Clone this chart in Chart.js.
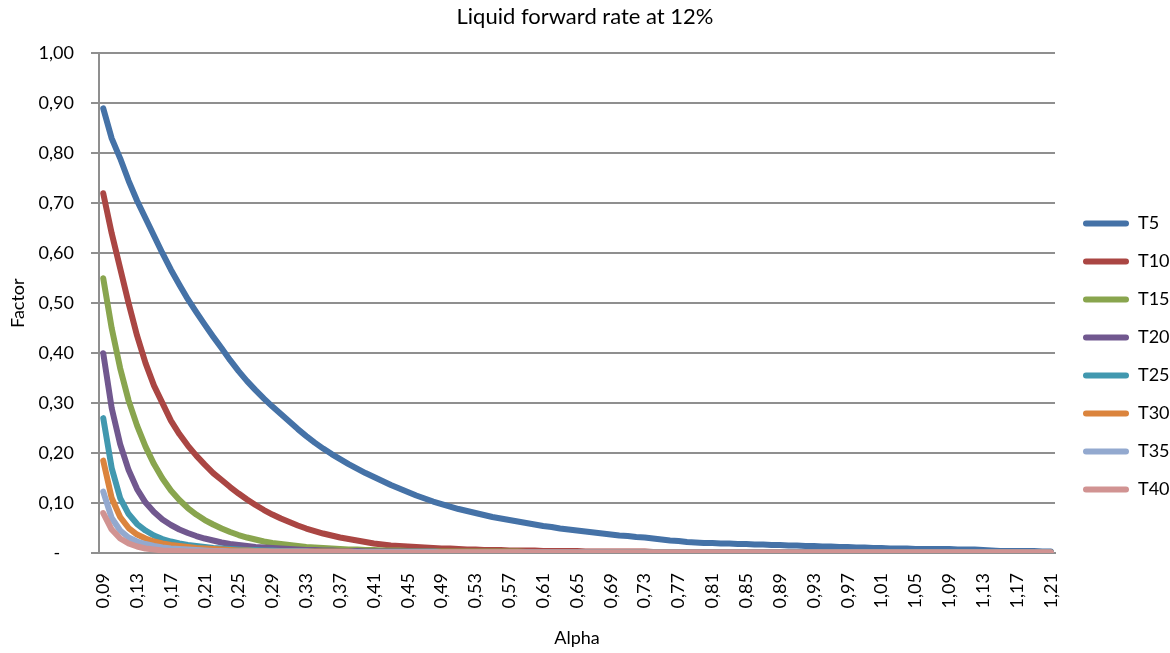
<!DOCTYPE html>
<html>
<head>
<meta charset="utf-8">
<title>Liquid forward rate at 12%</title>
<script src="https://cdn.jsdelivr.net/npm/chart.js@4"></script>
<style>
  body { margin: 0; background: #fff; }
  canvas { display: block; }
</style>
</head>
<body>
<canvas id="grafico" width="1170" height="653"></canvas>
<script>
// alpha values (x categories), step 0,01
const alphas = [
  '0,09','0,10','0,11','0,12','0,13','0,14','0,15','0,16','0,17','0,18',
  '0,19','0,20','0,21','0,22','0,23','0,24','0,25','0,26','0,27','0,28',
  '0,29','0,30','0,31','0,32','0,33','0,34','0,35','0,36','0,37','0,38',
  '0,39','0,40','0,41','0,42','0,43','0,44','0,45','0,46','0,47','0,48',
  '0,49','0,50','0,51','0,52','0,53','0,54','0,55','0,56','0,57','0,58',
  '0,59','0,60','0,61','0,62','0,63','0,64','0,65','0,66','0,67','0,68',
  '0,69','0,70','0,71','0,72','0,73','0,74','0,75','0,76','0,77','0,78',
  '0,79','0,80','0,81','0,82','0,83','0,84','0,85','0,86','0,87','0,88',
  '0,89','0,90','0,91','0,92','0,93','0,94','0,95','0,96','0,97','0,98',
  '0,99','1,00','1,01','1,02','1,03','1,04','1,05','1,06','1,07','1,08',
  '1,09','1,10','1,11','1,12','1,13','1,14','1,15','1,16','1,17','1,18',
  '1,19','1,20','1,21'
];

const seriesNames = ['T5', 'T10', 'T15', 'T20', 'T25', 'T30', 'T35', 'T40'];
const colores = ['#4572A7', '#AA4643', '#89A54E', '#71588F', '#4198AF', '#DB843D', '#93A9CF', '#D19392'];

const t5 = [
  0.89, 0.83, 0.79, 0.745, 0.705, 0.67, 0.635, 0.60, 0.567, 0.537,
  0.508, 0.482, 0.457, 0.433, 0.41, 0.386, 0.364, 0.344, 0.326, 0.309,
  0.293, 0.278, 0.263, 0.248, 0.234, 0.221, 0.209, 0.198, 0.188, 0.178,
  0.169, 0.16, 0.152, 0.144, 0.136, 0.129, 0.122, 0.115, 0.109, 0.103,
  0.098, 0.093, 0.088, 0.084, 0.08, 0.076, 0.072, 0.069, 0.066, 0.063,
  0.06, 0.057, 0.054, 0.052, 0.049, 0.047, 0.045, 0.043, 0.041, 0.039,
  0.037, 0.035, 0.034, 0.032, 0.031, 0.029, 0.027, 0.025, 0.024, 0.022,
  0.021, 0.02, 0.02, 0.019, 0.019, 0.018, 0.018, 0.017, 0.017, 0.016,
  0.016, 0.015, 0.015, 0.014, 0.014, 0.013, 0.013, 0.012, 0.012, 0.011,
  0.011, 0.01, 0.01, 0.009, 0.009, 0.009, 0.008, 0.008, 0.008, 0.008,
  0.008, 0.007, 0.007, 0.007, 0.006, 0.005, 0.004, 0.004, 0.004, 0.004,
  0.004, 0.003, 0.003
];
const t10 = [
  0.72, 0.64, 0.57, 0.50, 0.435, 0.38, 0.335, 0.30, 0.265, 0.238,
  0.215, 0.195, 0.177, 0.16, 0.146, 0.132, 0.119, 0.107, 0.096, 0.086,
  0.077, 0.069, 0.062, 0.055, 0.049, 0.044, 0.039, 0.035, 0.031, 0.028,
  0.025, 0.022, 0.019, 0.017, 0.015, 0.014, 0.013, 0.012, 0.011, 0.01,
  0.009, 0.009, 0.008, 0.007, 0.007, 0.006, 0.006, 0.006, 0.005, 0.005,
  0.005, 0.005, 0.004, 0.004, 0.004, 0.004, 0.004, 0.003, 0.003, 0.003,
  0.003, 0.003, 0.003, 0.003, 0.003, 0.002, 0.002, 0.002, 0.002, 0.002,
  0.002, 0.002, 0.002, 0.002, 0.002, 0.002, 0.001, 0.001, 0.001, 0.001,
  0.001, 0.001, 0.001, 0.001, 0.001, 0.001, 0.001, 0.001, 0.001, 0.001,
  0.001, 0.001, 0.001, 0.001, 0.001, 0.001, 0.001, 0.001, 0.001, 0.001,
  0.001, 0.001, 0.001, 0.001, 0.001, 0.001, 0.001, 0.001, 0.001, 0.001,
  0.001, 0.001, 0.001
];
const t15 = [
  0.55, 0.45, 0.37, 0.305, 0.255, 0.213, 0.178, 0.149, 0.125, 0.106,
  0.09, 0.077, 0.066, 0.057, 0.049, 0.042, 0.036, 0.031, 0.027, 0.023,
  0.02, 0.018, 0.016, 0.014, 0.012, 0.011, 0.01, 0.009, 0.008, 0.007,
  0.007, 0.006, 0.006, 0.005, 0.005, 0.005, 0.004, 0.004, 0.004, 0.004,
  0.003, 0.003, 0.003, 0.003, 0.003, 0.003, 0.003, 0.003, 0.003, 0.003,
  0.002, 0.002, 0.002, 0.002, 0.002, 0.002, 0.002, 0.002, 0.002, 0.002,
  0.002, 0.002, 0.002, 0.002, 0.002, 0.002, 0.002, 0.002, 0.002, 0.002,
  0.001, 0.001, 0.001, 0.001, 0.001, 0.001, 0.001, 0.001, 0.001, 0.001,
  0.001, 0.001, 0.001, 0.001, 0.001, 0.001, 0.001, 0.001, 0.001, 0.001,
  0.001, 0.001, 0.001, 0.001, 0.001, 0.001, 0.001, 0.001, 0.001, 0.001,
  0.001, 0.001, 0.001, 0.001, 0.001, 0.001, 0.001, 0.001, 0.001, 0.001,
  0.001, 0.001, 0.001
];
const t20 = [
  0.40, 0.29, 0.218, 0.166, 0.128, 0.101, 0.082, 0.067, 0.056, 0.047,
  0.04, 0.034, 0.029, 0.025, 0.021, 0.018, 0.016, 0.014, 0.012, 0.011,
  0.01, 0.009, 0.008, 0.007, 0.006, 0.006, 0.005, 0.005, 0.004, 0.004,
  0.004, 0.003, 0.003, 0.003, 0.003, 0.003, 0.003, 0.003, 0.003, 0.003,
  0.002, 0.002, 0.002, 0.002, 0.002, 0.002, 0.002, 0.002, 0.002, 0.002,
  0.002, 0.002, 0.002, 0.002, 0.002, 0.002, 0.002, 0.002, 0.002, 0.002,
  0.001, 0.001, 0.001, 0.001, 0.001, 0.001, 0.001, 0.001, 0.001, 0.001,
  0.001, 0.001, 0.001, 0.001, 0.001, 0.001, 0.001, 0.001, 0.001, 0.001,
  0.001, 0.001, 0.001, 0.001, 0.001, 0.001, 0.001, 0.001, 0.001, 0.001,
  0.001, 0.001, 0.001, 0.001, 0.001, 0.001, 0.001, 0.001, 0.001, 0.001,
  0.001, 0.001, 0.001, 0.001, 0.001, 0.001, 0.001, 0.001, 0.001, 0.001,
  0.001, 0.001, 0.001
];
const t25 = [
  0.27, 0.17, 0.11, 0.078, 0.058, 0.045, 0.035, 0.028, 0.023, 0.019,
  0.016, 0.014, 0.012, 0.01, 0.009, 0.008, 0.007, 0.006, 0.006, 0.005,
  0.005, 0.004, 0.004, 0.004, 0.003, 0.003, 0.003, 0.003, 0.003, 0.003,
  0.002, 0.002, 0.002, 0.002, 0.002, 0.002, 0.002, 0.002, 0.002, 0.002,
  0.002, 0.002, 0.002, 0.002, 0.002, 0.001, 0.001, 0.001, 0.001, 0.001,
  0.001, 0.001, 0.001, 0.001, 0.001, 0.001, 0.001, 0.001, 0.001, 0.001,
  0.001, 0.001, 0.001, 0.001, 0.001, 0.001, 0.001, 0.001, 0.001, 0.001,
  0.001, 0.001, 0.001, 0.001, 0.001, 0.001, 0.001, 0.001, 0.001, 0.001,
  0.001, 0.001, 0.001, 0.001, 0.001, 0.001, 0.001, 0.001, 0.001, 0.001,
  0.001, 0.001, 0.001, 0.001, 0.001, 0.001, 0.001, 0.001, 0.001, 0.001,
  0.001, 0.001, 0.001, 0.001, 0.001, 0.001, 0.001, 0.001, 0.001, 0.001,
  0.001, 0.001, 0.001
];
const t30 = [
  0.185, 0.11, 0.072, 0.05, 0.037, 0.029, 0.023, 0.019, 0.016, 0.014,
  0.012, 0.01, 0.009, 0.008, 0.007, 0.006, 0.005, 0.005, 0.004, 0.004,
  0.003, 0.003, 0.003, 0.003, 0.003, 0.003, 0.003, 0.003, 0.003, 0.003,
  0.002, 0.002, 0.002, 0.002, 0.002, 0.002, 0.002, 0.002, 0.002, 0.002,
  0.002, 0.002, 0.002, 0.002, 0.002, 0.002, 0.002, 0.002, 0.002, 0.002,
  0.001, 0.001, 0.001, 0.001, 0.001, 0.001, 0.001, 0.001, 0.001, 0.001,
  0.001, 0.001, 0.001, 0.001, 0.001, 0.001, 0.001, 0.001, 0.001, 0.001,
  0.001, 0.001, 0.001, 0.001, 0.001, 0.001, 0.001, 0.001, 0.001, 0.001,
  0.001, 0.001, 0.001, 0.001, 0.001, 0.001, 0.001, 0.001, 0.001, 0.001,
  0.001, 0.001, 0.001, 0.001, 0.001, 0.001, 0.001, 0.001, 0.001, 0.001,
  0.001, 0.001, 0.001, 0.001, 0.001, 0.001, 0.001, 0.001, 0.001, 0.001,
  0.001, 0.001, 0.001
];
const t35 = [
  0.123, 0.07, 0.045, 0.031, 0.023, 0.018, 0.014, 0.011, 0.009, 0.008,
  0.007, 0.006, 0.005, 0.004, 0.004, 0.003, 0.003, 0.003, 0.003, 0.003,
  0.003, 0.003, 0.003, 0.003, 0.003, 0.002, 0.002, 0.002, 0.002, 0.002,
  0.002, 0.002, 0.002, 0.002, 0.002, 0.002, 0.002, 0.002, 0.002, 0.002,
  0.001, 0.001, 0.001, 0.001, 0.001, 0.001, 0.001, 0.001, 0.001, 0.001,
  0.001, 0.001, 0.001, 0.001, 0.001, 0.001, 0.001, 0.001, 0.001, 0.001,
  0.001, 0.001, 0.001, 0.001, 0.001, 0.001, 0.001, 0.001, 0.001, 0.001,
  0.001, 0.001, 0.001, 0.001, 0.001, 0.001, 0.001, 0.001, 0.001, 0.001,
  0.001, 0.001, 0.001, 0.001, 0.001, 0.001, 0.001, 0.001, 0.001, 0.001,
  0.001, 0.001, 0.001, 0.001, 0.001, 0.001, 0.001, 0.001, 0.001, 0.001,
  0.001, 0.001, 0.001, 0.001, 0.001, 0.001, 0.001, 0.001, 0.001, 0.001,
  0.001, 0.001, 0.001
];
const t40 = [
  0.08, 0.047, 0.029, 0.019, 0.013, 0.009, 0.007, 0.005, 0.004, 0.004,
  0.003, 0.003, 0.003, 0.003, 0.003, 0.002, 0.002, 0.002, 0.002, 0.002,
  0.002, 0.002, 0.002, 0.002, 0.002, 0.002, 0.002, 0.002, 0.002, 0.002,
  0.001, 0.001, 0.001, 0.001, 0.001, 0.001, 0.001, 0.001, 0.001, 0.001,
  0.001, 0.001, 0.001, 0.001, 0.001, 0.001, 0.001, 0.001, 0.001, 0.001,
  0.001, 0.001, 0.001, 0.001, 0.001, 0.001, 0.001, 0.001, 0.001, 0.001,
  0.001, 0.001, 0.001, 0.001, 0.001, 0.001, 0.001, 0.001, 0.001, 0.001,
  0.001, 0.001, 0.001, 0.001, 0.001, 0.001, 0.001, 0.001, 0.001, 0.001,
  0.001, 0.001, 0.001, 0.001, 0.001, 0.001, 0.001, 0.001, 0.001, 0.001,
  0.001, 0.001, 0.001, 0.001, 0.001, 0.001, 0.001, 0.001, 0.001, 0.001,
  0.001, 0.001, 0.001, 0.001, 0.001, 0.001, 0.001, 0.001, 0.001, 0.001,
  0.001, 0.001, 0.001
];

const valores = [t5, t10, t15, t20, t25, t30, t35, t40];

const fuente = 'Lato, "Open Sans", sans-serif';
const gris = '#8f8f8f';

// last series is painted on top, like in the spreadsheet
const datasets = seriesNames.map((nombre, i) => ({
  label: nombre,
  data: valores[i],
  borderColor: colores[i],
  backgroundColor: colores[i],
  borderWidth: 6,
  borderCapStyle: 'round',
  borderJoinStyle: 'round',
  pointRadius: 0,
  tension: 0,
  order: seriesNames.length - i
}));

function coma(v) {
  if (v === 0) return '-   ';
  return v.toFixed(2).replace('.', ',');
}

// nudge the legend a bit right and down, to sit where the original has it
const moverLeyenda = {
  id: 'moverLeyenda',
  afterLayout(chart) {
    const l = chart.legend;
    l.left += 8; l.right += 8;
    l.top += 30; l.bottom += 30;
  }
};

new Chart(document.getElementById('grafico'), {
  type: 'line',
  data: { labels: alphas, datasets: datasets },
  plugins: [moverLeyenda],
  options: {
    responsive: false,
    animation: false,
    devicePixelRatio: 1,
    layout: { padding: { left: 0, right: 0, top: 0, bottom: 0 } },
    plugins: {
      tooltip: { enabled: false },
      title: {
        display: true,
        text: 'Liquid forward rate at 12%',
        color: '#000',
        font: { family: fuente, size: 22, weight: 'normal' },
        padding: { top: 4, bottom: 23 }
      },
      legend: {
        position: 'right',
        reverse: true,
        maxWidth: 115,
        labels: {
          color: '#000',
          font: { family: fuente, size: 18 },
          boxWidth: 46,
          boxHeight: 6,
          padding: 20,
          useBorderRadius: true,
          borderRadius: 3,
          generateLabels(chart) {
            const items = Chart.defaults.plugins.legend.labels.generateLabels(chart);
            items.forEach(it => { it.lineWidth = 0; });
            return items;
          }
        }
      }
    },
    scales: {
      x: {
        type: 'category',
        offset: true,
        grid: { display: false, drawTicks: false },
        border: { display: true, color: gris, width: 2 },
        ticks: {
          autoSkip: false,
          minRotation: 90,
          maxRotation: 90,
          padding: 20,
          color: '#000',
          font: { family: fuente, size: 18 },
          callback(value, index) {
            return index % 4 === 0 ? this.getLabelForValue(value) : null;
          }
        },
        title: {
          display: true,
          text: 'Alpha',
          color: '#000',
          font: { family: fuente, size: 18 },
          padding: { top: 0, bottom: 4 }
        },
        afterFit(scale) { scale.height = 100; }
      },
      y: {
        min: 0,
        max: 1,
        grid: { color: gris, lineWidth: 2, tickLength: 8, drawTicks: true },
        border: { display: true, color: gris, width: 2 },
        ticks: {
          stepSize: 0.1,
          padding: 17,
          color: '#000',
          font: { family: fuente, size: 18 },
          callback: coma
        },
        title: {
          display: true,
          text: 'Factor',
          color: '#000',
          font: { family: fuente, size: 18 },
          padding: { top: 7, bottom: 0 }
        },
        afterFit(scale) { scale.width = 99; }
      }
    }
  }
});
</script>
</body>
</html>
